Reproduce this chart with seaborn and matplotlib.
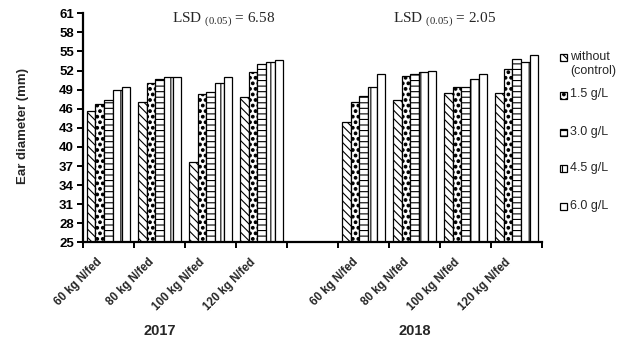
import matplotlib
matplotlib.use("Agg")
import matplotlib.pyplot as plt
import matplotlib.hatch as mhatch
from matplotlib.patches import Rectangle
from matplotlib.transforms import blended_transform_factory, ScaledTranslation
from matplotlib.ticker import FixedLocator
import pandas as pd
import seaborn as sns

# ---- data -------------------------------------------------------------
years = ["2017", "2018"]
n_rates = ["60 kg N/fed", "80 kg N/fed", "100 kg N/fed", "120 kg N/fed"]
treatments = ["without\n(control)", "1.5 g/L", "3.0 g/L", "4.5 g/L", "6.0 g/L"]

# ear diameter (mm); rows = N rate, columns = foliar treatment
diam_2017 = [
    [45.7, 46.8, 47.4, 49.0, 49.4],
    [47.1, 50.1, 50.7, 51.0, 51.0],
    [37.7, 48.4, 48.7, 50.1, 51.0],
    [47.8, 51.7, 53.0, 53.4, 53.7],
]
diam_2018 = [
    [44.0, 47.1, 48.0, 49.4, 51.4],
    [47.4, 51.1, 51.4, 51.7, 52.0],
    [48.5, 49.4, 49.4, 50.7, 51.4],
    [48.5, 52.3, 53.8, 53.4, 54.4],
]
lsd_values = [6.58, 2.05]
y_ticks = list(range(25, 62, 3))

# ---- long-form table --------------------------------------------------
rows = []
for year, table in zip(years, [diam_2017, diam_2018]):
    for rate, vals in zip(n_rates, table):
        for trt, v in zip(treatments, vals):
            rows.append({"slot": f"{year} {rate}", "treatment": trt, "diameter": v})
df = pd.DataFrame(rows)

gap_slot = "gap"
order = [f"{years[0]} {r}" for r in n_rates] + [gap_slot] + [f"{years[1]} {r}" for r in n_rates]
tick_text = n_rates + [""] + n_rates

# ---- style ------------------------------------------------------------
sns.set_theme(style="ticks")
plt.rcParams["font.family"] = ["Liberation Sans", "DejaVu Sans"]
plt.rcParams["mathtext.fontset"] = "custom"
plt.rcParams["mathtext.rm"] = "Liberation Serif"
plt.rcParams["hatch.linewidth"] = 0.8
plt.rcParams["hatch.color"] = "black"
# bigger filled dots for the '.' hatch
mhatch.SmallFilledCircles.size = 0.24

hatches = ["\\\\\\\\", "...", "---", "||", ""]

fig = plt.figure(figsize=(6.24, 3.41), dpi=100)
ax = fig.add_axes([0.133, 0.289, 0.736, 0.672])

sns.barplot(
    data=df, x="slot", y="diameter", hue="treatment",
    order=order, hue_order=treatments,
    palette=["white"] * len(treatments), saturation=1,
    edgecolor="black", linewidth=0.9,
    width=0.85, gap=0, legend=False, errorbar=None, ax=ax,
)

for container, h in zip(ax.containers, hatches):
    for bar in container:
        bar.set_hatch(h)

# ---- axes -------------------------------------------------------------
ax.set_ylim(25, 61)
ax.set_xlim(-0.5, len(order) - 0.5)
ax.set_yticks(y_ticks)
ax.set_yticklabels([str(t) for t in y_ticks], fontsize=9.5, fontweight="bold")
ax.tick_params(axis="y", direction="out", length=4, width=1.4, pad=2.5, colors="black")

ax.set_xticks(range(len(order)))
ax.set_xticklabels(tick_text, rotation=45, ha="right", rotation_mode="anchor",
                   fontsize=8.3, fontweight="bold")
ax.tick_params(axis="x", which="major", length=0, pad=10)
shift = ScaledTranslation(-12 / 100, 0, fig.dpi_scale_trans)
for lbl in ax.get_xticklabels():
    lbl.set_transform(lbl.get_transform() + shift)
ax.xaxis.set_minor_locator(FixedLocator([i - 0.5 for i in range(len(order) + 1)]))
ax.tick_params(axis="x", which="minor", direction="out", length=4.5, width=1.4, color="black")

for side in ("top", "right"):
    ax.spines[side].set_visible(False)
for side in ("left", "bottom"):
    ax.spines[side].set_linewidth(1.6)
    ax.spines[side].set_color("black")

ax.set_xlabel("")
ax.set_ylabel("Ear diameter (mm)", fontsize=9.5, fontweight="bold")
ax.yaxis.set_label_coords(-0.118, 0.51)

# LSD annotations
for xpos, val in zip([2.25, 6.58], lsd_values):
    ax.text(xpos, 60, r"LSD $_{\mathrm{(0.05)}}$ = " + f"{val:.2f}",
            ha="center", va="center", fontsize=11, family="Liberation Serif")

# year labels under each block of N rates
yr_tf = blended_transform_factory(ax.transData, fig.transFigure)
for xpos, year in zip([1.0, 6.0], years):
    ax.text(xpos, 0.028, year, transform=yr_tf, ha="center", va="center",
            fontsize=10.5, fontweight="bold")

# ---- legend -----------------------------------------------------------
W, H = 624.0, 341.0
box = 7.0
row_y = [57, 95, 132, 168, 206]
for trt, h, y in zip(treatments, hatches, row_y):
    fig.add_artist(Rectangle((560 / W, 1 - (y + box / 2) / H), box / W, box / H,
                             transform=fig.transFigure, facecolor="white",
                             edgecolor="black", linewidth=0.9, hatch=h))
    fig.text(570 / W, 1 - (y - 6.5) / H, trt, ha="left", va="top",
             fontsize=9, linespacing=1.3)

fig.savefig("out.png", dpi=100)
